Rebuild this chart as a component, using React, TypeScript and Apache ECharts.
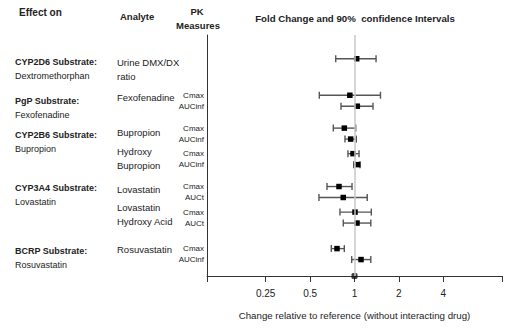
import React, { useEffect, useRef } from "react";
import * as echarts from "echarts";

// ---- data ----
const pkMeasures = ["", "Cmax", "AUCinf", "Cmax", "AUCinf", "Cmax", "AUCinf", "Cmax", "AUCt", "Cmax", "AUCt", "Cmax", "AUCinf"];
const foldChange = [1.035, 0.93, 1.045, 0.853, 0.942, 0.977, 1.051, 0.785, 0.839, 1.008, 1.04, 0.761, 1.107];
const ciLower = [0.746, 0.577, 0.81, 0.718, 0.862, 0.903, 0.988, 0.651, 0.574, 0.797, 0.839, 0.696, 0.957];
const ciUpper = [1.4, 1.5, 1.335, 1.019, 1.029, 1.073, 1.09, 0.962, 1.22, 1.3, 1.29, 0.853, 1.29];
const xTickValues = [0.1, 0.25, 0.5, 1, 2, 4, 10];
const xLabelValues = [0.25, 0.5, 1, 2, 4];
const referenceRatio = 1;

const substrates = [
  { head: "CYP2D6 Substrate:", drug: "Dextromethorphan" },
  { head: "PgP Substrate:", drug: "Fexofenadine" },
  { head: "CYP2B6 Substrate:", drug: "Bupropion" },
  { head: "CYP3A4 Substrate:", drug: "Lovastatin" },
  { head: "BCRP Substrate:", drug: "Rosuvastatin" },
];
const analytes = [
  ["Urine DMX/DX", "ratio"],
  ["Fexofenadine"],
  ["Bupropion"],
  ["Hydroxy", "Bupropion"],
  ["Lovastatin"],
  ["Lovastatin", "Hydroxy Acid"],
  ["Rosuvastatin"],
];

// ---- layout ----
const SLOT_COUNT = 66;
const rowSlots = [6, 16, 19, 25, 28, 32, 35, 41, 44, 48, 51, 58, 61];
const substrateY = [62, 101, 135, 188, 251];
const analyteY = [62, 97, 132, 151, 189, 207, 249];
const FONT = "'Liberation Sans', Arial, Helvetica, sans-serif";

export default function App() {
  const ref = useRef<HTMLDivElement>(null);
  useEffect(() => {
    if (!ref.current) return;
    document.body.style.margin = "0";
    const chart = echarts.init(ref.current, null, { renderer: "svg" });

    const categories: string[] = [];
    for (let i = 0; i < SLOT_COUNT; i++) {
      const r = rowSlots.indexOf(i);
      categories.push(r >= 0 ? pkMeasures[r] : "");
    }
    const data = foldChange.map((v, i) => [v, rowSlots[i], ciLower[i], ciUpper[i]]);

    const graphics: any[] = [];
    const txt = (x: number, y: number, text: string, size: number, bold: boolean, align = "left") =>
      graphics.push({
        type: "text",
        x,
        y,
        style: {
          text,
          fontSize: size,
          fontWeight: bold ? "bold" : "normal",
          fontFamily: FONT,
          fill: "#222",
          textAlign: align,
          textVerticalAlign: "middle",
        },
      });
    txt(19, 12, "Effect on", 10, true);
    txt(120, 16, "Analyte", 9.5, true);
    txt(197, 11, "PK", 9.5, true, "center");
    txt(198, 25, "Measures", 9.5, true, "center");
    txt(355, 18, "Fold Change and 90%  confidence Intervals", 9.7, true, "center");
    substrates.forEach((s, i) => {
      txt(15, substrateY[i], s.head, 9, true);
      txt(15, substrateY[i] + 14, s.drug, 9, false);
    });
    analytes.forEach((lines, i) => {
      lines.forEach((l, j) => txt(117, analyteY[i] + j * 14, l, 9.5, false));
    });

    chart.setOption({
      animation: false,
      textStyle: { fontFamily: FONT },
      grid: { left: 207, right: 4, top: 35, bottom: 52 },
      xAxis: {
        type: "log",
        logBase: 10,
        min: 0.1,
        max: 10,
        splitLine: { show: false },
        axisLine: { lineStyle: { color: "#333", width: 1 } },
        axisTick: { show: true, length: 6, customValues: xTickValues, lineStyle: { color: "#333" } },
        axisLabel: {
          customValues: xLabelValues,
          margin: 12,
          fontSize: 10,
          color: "#222",
          fontFamily: FONT,
          formatter: (v: number) => String(v),
        },
        minorTick: { show: false },
        name: "Change relative to reference (without interacting drug)",
        nameLocation: "middle",
        nameGap: 34,
        nameTextStyle: { fontSize: 9.7, color: "#222", fontFamily: FONT },
      },
      yAxis: [
        {
          type: "category",
          inverse: true,
          data: categories,
          axisLine: { lineStyle: { color: "#333", width: 1 } },
          axisTick: {
            alignWithLabel: true,
            length: 4,
            interval: (idx: number) => rowSlots.indexOf(idx) >= 0,
            lineStyle: { color: "#333" },
          },
          axisLabel: { interval: 0, fontSize: 8, color: "#222", margin: 3, fontFamily: FONT },
          splitLine: { show: false },
        },
        { type: "value", min: 0, max: 1, show: false },
      ],
      graphic: graphics,
      series: [
        {
          type: "custom",
          data,
          encode: { x: [0, 2, 3], y: 1 },
          renderItem: (params: any, api: any) => {
            const y = api.value(1);
            const c = api.coord([api.value(0), y]);
            const lo = api.coord([api.value(2), y]);
            const hi = api.coord([api.value(3), y]);
            const st = { stroke: "#555", lineWidth: 1.4 };
            const cap = 3.5;
            const sq = 5.5;
            return {
              type: "group",
              children: [
                { type: "line", shape: { x1: lo[0], y1: lo[1], x2: hi[0], y2: hi[1] }, style: st },
                { type: "line", shape: { x1: lo[0], y1: lo[1] - cap, x2: lo[0], y2: lo[1] + cap }, style: st },
                { type: "line", shape: { x1: hi[0], y1: hi[1] - cap, x2: hi[0], y2: hi[1] + cap }, style: st },
                { type: "rect", shape: { x: c[0] - sq / 2, y: c[1] - sq / 2, width: sq, height: sq }, style: { fill: "#000" } },
              ],
            };
          },
          markLine: {
            silent: true,
            symbol: "none",
            label: { show: false },
            lineStyle: { color: "#c8c8c8", type: "solid", width: 1.5 },
            data: [{ xAxis: referenceRatio }],
          },
          z: 3,
        },
        {
          type: "scatter",
          yAxisIndex: 1,
          data: [[referenceRatio, 0]],
          symbol: "roundRect",
          symbolSize: 6,
          itemStyle: { color: "#111" },
          clip: false,
          z: 4,
        },
      ],
    });
    return () => chart.dispose();
  }, []);
  return <div ref={ref} style={{ width: 506, height: 328, position: "absolute", left: 0, top: 0 }} />;
}
